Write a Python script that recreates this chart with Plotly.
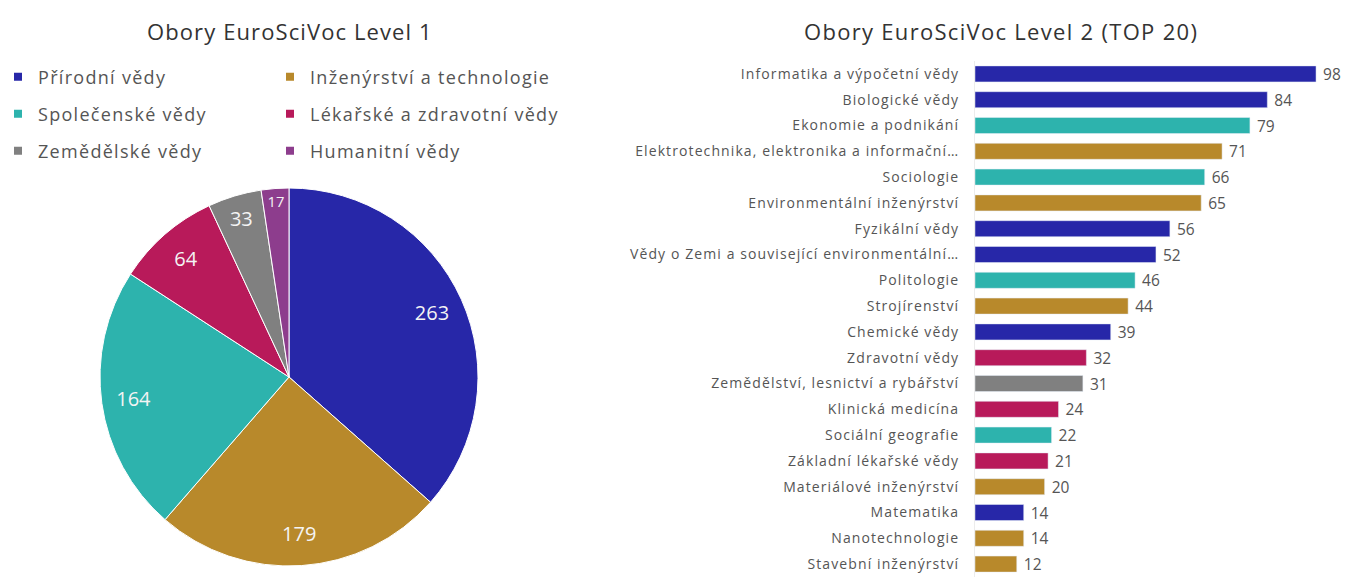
import plotly.graph_objects as go

# ---- Data ----
level1_labels = ["Přírodní vědy", "Inženýrství a technologie", "Společenské vědy",
                 "Lékařské a zdravotní vědy", "Zemědělské vědy", "Humanitní vědy"]
level1_values = [263, 179, 164, 64, 33, 17]
level1_colors = ["#2727a8", "#b8892b", "#2db3ad", "#b81a5a", "#808080", "#8d3d8d"]

level2_labels = [
    "Informatika a výpočetní vědy", "Biologické vědy", "Ekonomie a podnikání",
    "Elektrotechnika, elektronika a informační…", "Sociologie",
    "Environmentální inženýrství", "Fyzikální vědy",
    "Vědy o Zemi a související environmentální…", "Politologie", "Strojírenství",
    "Chemické vědy", "Zdravotní vědy", "Zemědělství, lesnictví a rybářství",
    "Klinická medicína", "Sociální geografie", "Základní lékařské vědy",
    "Materiálové inženýrství", "Matematika", "Nanotechnologie", "Stavební inženýrství",
]
level2_values = [98, 84, 79, 71, 66, 65, 56, 52, 46, 44, 39, 32, 31, 24, 22, 21, 20, 14, 14, 12]
level2_field = [
    "Přírodní vědy", "Přírodní vědy", "Společenské vědy", "Inženýrství a technologie",
    "Společenské vědy", "Inženýrství a technologie", "Přírodní vědy", "Přírodní vědy",
    "Společenské vědy", "Inženýrství a technologie", "Přírodní vědy",
    "Lékařské a zdravotní vědy", "Zemědělské vědy", "Lékařské a zdravotní vědy",
    "Společenské vědy", "Lékařské a zdravotní vědy", "Inženýrství a technologie",
    "Přírodní vědy", "Inženýrství a technologie", "Inženýrství a technologie",
]

color_map = dict(zip(level1_labels, level1_colors))
bar_colors = [color_map[f] for f in level2_field]

OFF = 8  # page body margin
W, H = 1351 - 2 * OFF, 585 - 2 * OFF
FONT = "Open Sans"


def spaced(s, px):
    return f"<span style='letter-spacing:{px}px'>{s}</span>"


fig = go.Figure()

# Pie chart: full pie, plus a transparent ring on top that carries the value
# labels so they sit near the rim as in the original.
cx, cy, r = 289 - OFF, 377 - OFF, 189
pie_domain = dict(x=[max(0, (cx - r) / W), min(1, (cx + r) / W)],
                  y=[max(0, (H - cy - r) / H), min(1, (H - cy + r) / H)])
fig.add_trace(go.Pie(
    labels=level1_labels, values=level1_values, sort=False, direction="clockwise",
    rotation=0, marker=dict(colors=level1_colors, line=dict(color="white", width=1)),
    textinfo="none", domain=pie_domain, showlegend=False, hoverinfo="label+value",
))
fig.add_trace(go.Pie(
    labels=level1_labels, values=level1_values, sort=False, direction="clockwise",
    rotation=0, hole=0.66,
    marker=dict(colors=["rgba(0,0,0,0)"] * len(level1_labels), line=dict(width=0)),
    textinfo="value", textposition="inside", insidetextorientation="horizontal",
    textfont=dict(family=FONT, size=20, color="#f4f4f4"),
    domain=pie_domain, showlegend=False, hoverinfo="skip",
))

# Bar chart
fig.add_trace(go.Bar(
    x=level2_values, y=level2_labels, orientation="h",
    marker=dict(color=bar_colors), text=level2_values, textposition="outside",
    texttemplate=" %{x}", constraintext="none",
    textfont=dict(family=FONT, size=15.5, color="#555555"), cliponaxis=False,
    showlegend=False, hovertemplate="%{y}: %{x}<extra></extra>",
))

# Legend entries (3 rows x 2 columns), one legend per entry, on a hidden axis pair
row_y = [78 - 9, 115 - 9, 152 - 9]
col_x = [-10, 262]
legend_common = dict(orientation="h", xanchor="left", yanchor="middle",
                     font=dict(family=FONT, size=18, color="#555555"),
                     bgcolor="rgba(0,0,0,0)", itemclick=False)
legend_layout = {}
for i, (lab, col) in enumerate(zip(level1_labels, level1_colors)):
    key = "legend" if i == 0 else f"legend{i + 1}"
    fig.add_trace(go.Scatter(
        x=[None], y=[None], mode="markers", name=spaced(lab, 1.3),
        xaxis="x2", yaxis="y2",
        marker=dict(symbol="square", size=8, color=col),
        legend=key, showlegend=True, hoverinfo="skip",
    ))
    legend_layout[key] = dict(x=col_x[i % 2] / W, y=1 - row_y[i // 2] / H, **legend_common)

bar_x0, bar_x1 = 975 - OFF, 975 - OFF + 348
bar_top, bar_bot = 61 - OFF, min(578 - OFF, H)

fig.update_layout(
    width=W, height=H, margin=dict(l=0, r=0, t=0, b=0, autoexpand=False),
    paper_bgcolor="white", plot_bgcolor="white",
    font=dict(family=FONT, color="#555555"),
    bargap=0.38,
    xaxis=dict(domain=[bar_x0 / W, min(1, bar_x1 / W)], range=[0, 100], visible=False,
               type="linear"),
    yaxis=dict(domain=[max(0, (H - bar_bot) / H), (H - bar_top) / H],
               autorange="reversed",
               type="category", tickvals=level2_labels,
               ticktext=[spaced(t, 1.1) for t in level2_labels],
               showline=True, linecolor="#ececec", linewidth=1, showgrid=False,
               ticks="", ticklabelstandoff=12,
               tickfont=dict(family=FONT, size=14, color="#555555")),
    xaxis2=dict(domain=[0, 0.01], visible=False),
    yaxis2=dict(domain=[0, 0.01], visible=False),
    annotations=[
        dict(text=spaced("Obory EuroSciVoc Level 1", 1.1), x=(290 - OFF) / W,
             y=1 - (31 - OFF) / H, xref="paper",
             yref="paper", xanchor="center", yanchor="middle", showarrow=False,
             font=dict(family=FONT, size=22, color="#333333")),
        dict(text=spaced("Obory EuroSciVoc Level 2 (TOP 20)", 1.3), x=(1001 - OFF) / W,
             y=1 - (31 - OFF) / H,
             xref="paper", yref="paper", xanchor="center", yanchor="middle",
             showarrow=False, font=dict(family=FONT, size=22, color="#333333")),
    ],
    **legend_layout,
)

fig.write_html("out.html")
